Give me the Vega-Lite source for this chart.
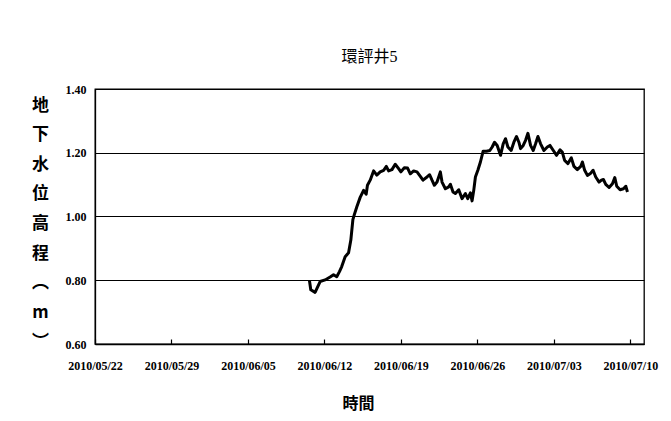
{
  "$schema": "https://vega.github.io/schema/vega-lite/v6.json",
  "width": 549,
  "height": 255,
  "autosize": {"type": "none"},
  "padding": {"left": 95, "top": 89, "right": 27, "bottom": 77},
  "background": "white",
  "title": {"text": "環評井5", "fontSize": 16, "font": "Liberation Serif, Noto Sans CJK TC, serif", "fontWeight": "normal", "color": "black", "offset": 18, "anchor": "middle"},
  "config": {"view": {"stroke": "black", "strokeWidth": 1.3}},
  "data": {"values": [
    {"t": "2010-06-10T15:00", "v": 0.800},
    {"t": "2010-06-10T18:00", "v": 0.770},
    {"t": "2010-06-11T03:30", "v": 0.762},
    {"t": "2010-06-11T14:30", "v": 0.796},
    {"t": "2010-06-12T01:30", "v": 0.801},
    {"t": "2010-06-12T12:30", "v": 0.810},
    {"t": "2010-06-12T20:00", "v": 0.817},
    {"t": "2010-06-13T03:00", "v": 0.811},
    {"t": "2010-06-13T09:00", "v": 0.827},
    {"t": "2010-06-13T14:00", "v": 0.843},
    {"t": "2010-06-13T21:30", "v": 0.874},
    {"t": "2010-06-14T05:00", "v": 0.886},
    {"t": "2010-06-14T10:00", "v": 0.926},
    {"t": "2010-06-14T14:30", "v": 0.990},
    {"t": "2010-06-14T17:30", "v": 1.005},
    {"t": "2010-06-14T23:00", "v": 1.030},
    {"t": "2010-06-15T06:30", "v": 1.060},
    {"t": "2010-06-15T14:00", "v": 1.082},
    {"t": "2010-06-15T19:40", "v": 1.070},
    {"t": "2010-06-15T22:30", "v": 1.098},
    {"t": "2010-06-16T04:30", "v": 1.114},
    {"t": "2010-06-16T12:00", "v": 1.143},
    {"t": "2010-06-16T19:00", "v": 1.130},
    {"t": "2010-06-17T02:30", "v": 1.140},
    {"t": "2010-06-17T10:00", "v": 1.145},
    {"t": "2010-06-17T16:00", "v": 1.157},
    {"t": "2010-06-17T21:00", "v": 1.143},
    {"t": "2010-06-18T04:20", "v": 1.147},
    {"t": "2010-06-18T11:30", "v": 1.164},
    {"t": "2010-06-18T19:00", "v": 1.150},
    {"t": "2010-06-19T00:00", "v": 1.140},
    {"t": "2010-06-19T07:30", "v": 1.153},
    {"t": "2010-06-19T14:40", "v": 1.152},
    {"t": "2010-06-19T20:40", "v": 1.134},
    {"t": "2010-06-20T04:00", "v": 1.143},
    {"t": "2010-06-20T11:20", "v": 1.140},
    {"t": "2010-06-20T18:40", "v": 1.126},
    {"t": "2010-06-21T00:30", "v": 1.114},
    {"t": "2010-06-21T09:20", "v": 1.124},
    {"t": "2010-06-21T15:10", "v": 1.131},
    {"t": "2010-06-21T20:20", "v": 1.114},
    {"t": "2010-06-22T01:30", "v": 1.098},
    {"t": "2010-06-22T07:20", "v": 1.108},
    {"t": "2010-06-22T11:00", "v": 1.124},
    {"t": "2010-06-22T14:40", "v": 1.140},
    {"t": "2010-06-22T18:20", "v": 1.108},
    {"t": "2010-06-23T01:40", "v": 1.087},
    {"t": "2010-06-23T09:00", "v": 1.093},
    {"t": "2010-06-23T12:40", "v": 1.101},
    {"t": "2010-06-23T18:30", "v": 1.077},
    {"t": "2010-06-23T23:40", "v": 1.072},
    {"t": "2010-06-24T07:00", "v": 1.084},
    {"t": "2010-06-24T14:20", "v": 1.056},
    {"t": "2010-06-24T21:40", "v": 1.072},
    {"t": "2010-06-25T02:50", "v": 1.056},
    {"t": "2010-06-25T08:40", "v": 1.074},
    {"t": "2010-06-25T12:20", "v": 1.049},
    {"t": "2010-06-25T16:00", "v": 1.082},
    {"t": "2010-06-25T19:40", "v": 1.124},
    {"t": "2010-06-26T01:00", "v": 1.145},
    {"t": "2010-06-26T06:40", "v": 1.171},
    {"t": "2010-06-26T12:40", "v": 1.205},
    {"t": "2010-06-26T20:00", "v": 1.205},
    {"t": "2010-06-27T03:20", "v": 1.207},
    {"t": "2010-06-27T08:30", "v": 1.218},
    {"t": "2010-06-27T13:40", "v": 1.233},
    {"t": "2010-06-27T19:30", "v": 1.223},
    {"t": "2010-06-28T02:50", "v": 1.192},
    {"t": "2010-06-28T08:40", "v": 1.228},
    {"t": "2010-06-28T13:50", "v": 1.244},
    {"t": "2010-06-28T19:00", "v": 1.218},
    {"t": "2010-06-29T02:10", "v": 1.207},
    {"t": "2010-06-29T08:10", "v": 1.233},
    {"t": "2010-06-29T14:00", "v": 1.251},
    {"t": "2010-06-29T19:10", "v": 1.233},
    {"t": "2010-06-29T22:50", "v": 1.213},
    {"t": "2010-06-30T04:40", "v": 1.223},
    {"t": "2010-06-30T09:50", "v": 1.239},
    {"t": "2010-06-30T15:00", "v": 1.261},
    {"t": "2010-06-30T20:50", "v": 1.223},
    {"t": "2010-07-01T02:40", "v": 1.207},
    {"t": "2010-07-01T07:50", "v": 1.228},
    {"t": "2010-07-01T13:00", "v": 1.251},
    {"t": "2010-07-01T18:50", "v": 1.228},
    {"t": "2010-07-02T02:10", "v": 1.207},
    {"t": "2010-07-02T09:40", "v": 1.218},
    {"t": "2010-07-02T15:20", "v": 1.223},
    {"t": "2010-07-02T22:50", "v": 1.207},
    {"t": "2010-07-03T06:00", "v": 1.192},
    {"t": "2010-07-03T13:30", "v": 1.209},
    {"t": "2010-07-03T18:30", "v": 1.202},
    {"t": "2010-07-03T23:40", "v": 1.176},
    {"t": "2010-07-04T07:00", "v": 1.166},
    {"t": "2010-07-04T14:20", "v": 1.184},
    {"t": "2010-07-04T20:10", "v": 1.157},
    {"t": "2010-07-05T03:30", "v": 1.147},
    {"t": "2010-07-05T11:00", "v": 1.157},
    {"t": "2010-07-05T14:40", "v": 1.171},
    {"t": "2010-07-05T19:40", "v": 1.145},
    {"t": "2010-07-06T01:40", "v": 1.129},
    {"t": "2010-07-06T09:00", "v": 1.136},
    {"t": "2010-07-06T14:10", "v": 1.145},
    {"t": "2010-07-06T20:00", "v": 1.124},
    {"t": "2010-07-07T03:20", "v": 1.108},
    {"t": "2010-07-07T08:30", "v": 1.114},
    {"t": "2010-07-07T12:50", "v": 1.116},
    {"t": "2010-07-07T18:00", "v": 1.101},
    {"t": "2010-07-08T01:20", "v": 1.091},
    {"t": "2010-07-08T08:40", "v": 1.103},
    {"t": "2010-07-08T13:50", "v": 1.122},
    {"t": "2010-07-08T18:10", "v": 1.095},
    {"t": "2010-07-09T01:30", "v": 1.084},
    {"t": "2010-07-09T08:50", "v": 1.087},
    {"t": "2010-07-09T14:00", "v": 1.095},
    {"t": "2010-07-09T17:40", "v": 1.077}
  ]},
  "mark": {"type": "line", "color": "black", "strokeWidth": 3, "strokeJoin": "round"},
  "encoding": {
    "x": {
      "field": "t", "type": "temporal",
      "scale": {"domain": [{"year": 2010, "month": 5, "date": 22}, {"year": 2010, "month": 7, "date": 11, "hours": 6}]},
      "axis": {
        "values": [
          {"year": 2010, "month": 5, "date": 22},
          {"year": 2010, "month": 5, "date": 29},
          {"year": 2010, "month": 6, "date": 5},
          {"year": 2010, "month": 6, "date": 12},
          {"year": 2010, "month": 6, "date": 19},
          {"year": 2010, "month": 6, "date": 26},
          {"year": 2010, "month": 7, "date": 3},
          {"year": 2010, "month": 7, "date": 10}
        ],
        "format": "%Y/%m/%d", "grid": false, "tickSize": -5, "tickColor": "black", "tickWidth": 1.2,
        "domainColor": "black", "domainWidth": 1.3, "labelFont": "Times New Roman, Liberation Serif, serif", "labelFontSize": 12, "labelFontWeight": "bold",
        "labelColor": "black", "labelPadding": 21, "labelAngle": 0, "labelFlush": false, "labelOverlap": false,
        "title": "時間", "titleFont": "Noto Sans CJK TC", "titleFontSize": 16, "titleFontWeight": "bold",
        "titleColor": "black", "titlePadding": 24, "titleX": 263
      }
    },
    "y": {
      "field": "v", "type": "quantitative",
      "scale": {"domain": [0.6, 1.4]},
      "axis": {
        "values": [0.6, 0.8, 1.0, 1.2, 1.4], "format": ".2f",
        "grid": true, "gridColor": "black", "gridOpacity": 1, "gridWidth": 1.2,
        "ticks": false, "domainColor": "black", "domainWidth": 1.3,
        "labelFont": "Times New Roman, Liberation Serif, serif", "labelFontSize": 12, "labelFontWeight": "bold", "labelColor": "black", "labelPadding": 9,
        "title": ["地", "下", "水", "位", "高", "程", "︵", "m", "︶"],
        "titleAngle": 0, "titleX": -55, "titleY": 8, "titleAlign": "center", "titleBaseline": "top",
        "titleLineHeight": 29.6, "titleFont": "Noto Sans CJK TC", "titleFontSize": 17, "titleFontWeight": "bold", "titleColor": "black"
      }
    }
  }
}
